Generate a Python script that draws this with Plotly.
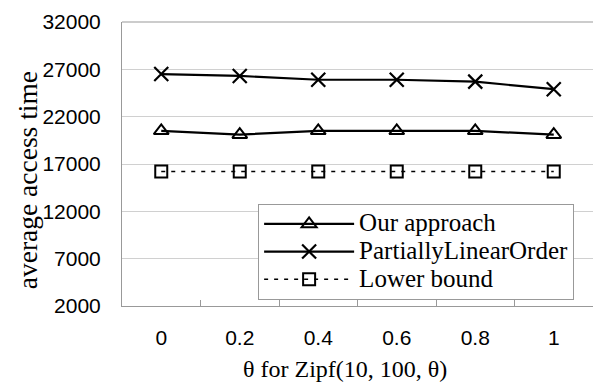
import plotly.graph_objects as go

theta = ["0", "0.2", "0.4", "0.6", "0.8", "1"]
our_approach = [20500, 20100, 20500, 20500, 20500, 20100]
partially_linear = [26500, 26300, 25900, 25900, 25700, 24900]
lower_bound = [16200, 16200, 16200, 16200, 16200, 16200]
y_ticks = [2000, 7000, 12000, 17000, 22000, 27000, 32000]
series_names = ["Our approach", "PartiallyLinearOrder", "Lower bound"]
x_title = "θ for Zipf(10, 100, θ)"
y_title = "average access time"


def big(name):
    return '<span style="font-size:25px">' + name + '</span>'


fig = go.Figure()
fig.add_trace(go.Scatter(x=theta, y=our_approach, name=big(series_names[0]), mode="lines+markers",
                         line=dict(color="black", width=2.2),
                         marker=dict(symbol="triangle-up-open", size=13, color="black", line=dict(width=2))))
fig.add_trace(go.Scatter(x=theta, y=partially_linear, name=big(series_names[1]), mode="lines+markers",
                         line=dict(color="black", width=2.2),
                         marker=dict(symbol="x-thin-open", size=14, color="black", line=dict(width=2.2))))
fig.add_trace(go.Scatter(x=theta, y=lower_bound, name=big(series_names[2]), mode="lines+markers",
                         line=dict(color="black", width=1.5, dash="4px,6px"),
                         marker=dict(symbol="square-open", size=12, color="black", line=dict(width=2))))

fig.update_layout(
    width=593, height=385,
    margin=dict(l=122, r=0, t=22, b=79),
    paper_bgcolor="white", plot_bgcolor="white",
    showlegend=True,
    legend=dict(x=0.289, y=0.359, xanchor="left", yanchor="top",
                bordercolor="#999999", borderwidth=1, bgcolor="white",
                font=dict(family="Liberation Serif", size=19, color="black"),
                tracegroupgap=0, itemwidth=90),
    xaxis=dict(type="category", range=[-0.5, 5.5], showgrid=False,
               showline=True, linecolor="#999999", linewidth=1,
               ticks="inside", tickson="boundaries", ticklen=6, tickcolor="#999999",
               tickfont=dict(family="Liberation Sans", size=21, color="black"),
               ticklabelstandoff=13),
    yaxis=dict(range=[2000, 32000], tickvals=y_ticks, tickformat="d",
               showgrid=True, gridcolor="#d0d0d0",
               showline=True, linecolor="#999999", linewidth=1, ticks="",
               tickfont=dict(family="Liberation Sans", size=21, color="black"),
               ticklabelstandoff=16, zeroline=False),
    annotations=[
        dict(text=x_title, xref="paper", yref="paper", x=0.473, y=-0.272,
             xanchor="center", yanchor="bottom", showarrow=False, borderpad=0,
             font=dict(family="Liberation Serif", size=24, color="black")),
        dict(text=y_title, xref="paper", yref="paper", x=-0.199, y=0.4437,
             xanchor="center", yanchor="middle", showarrow=False, textangle=-90,
             font=dict(family="Liberation Serif", size=27.5, color="black")),
    ],
)
fig.add_shape(type="line", xref="paper", yref="paper", x0=0, x1=1, y0=1, y1=1,
              line=dict(color="#999999", width=1))

fig.write_html("out.html")
